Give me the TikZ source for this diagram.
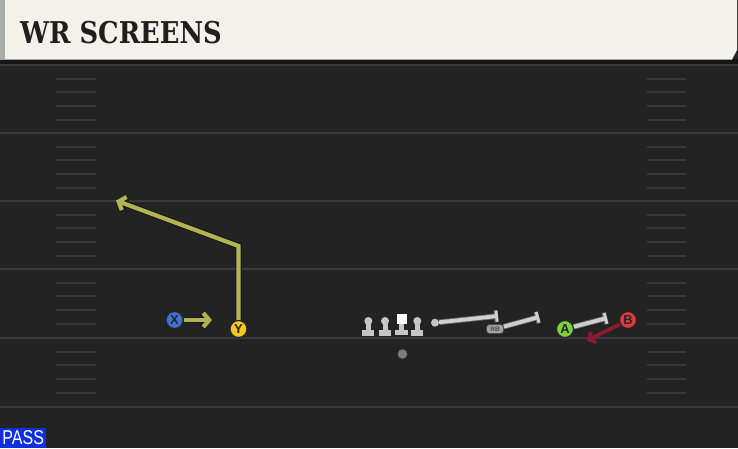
\documentclass[tikz,border=0pt]{standalone}
\usepackage{fontspec}
\usepackage{xcolor}
\usepackage{tikz}
\usetikzlibrary{arrows.meta, positioning, calc}
\setmainfont{Liberation Sans}
\newfontfamily\titlefont{DejaVu Serif}[BoldFont={DejaVu Serif Bold}, FakeStretch=0.86]
\newfontfamily\passfont{Liberation Sans}[FakeStretch=0.8]

\definecolor{fieldbg}{HTML}{232323}
\definecolor{headerbg}{HTML}{F4F1EA}
\definecolor{headeredge}{HTML}{A9ACA8}
\definecolor{headershadow}{HTML}{151515}
\definecolor{yardline}{HTML}{3B3B3B}
\definecolor{hashline}{HTML}{383838}
\definecolor{routeolive}{HTML}{B4B352}
\definecolor{blockgray}{HTML}{CFCFCF}
\definecolor{linegray}{HTML}{C6C6C6}
\definecolor{qbgray}{HTML}{7C7C7C}
\definecolor{rbgray}{HTML}{A2A2A2}
\definecolor{xblue}{HTML}{3D72D9}
\definecolor{yyellow}{HTML}{F3C921}
\definecolor{agreen}{HTML}{7ED23B}
\definecolor{bred}{HTML}{E1393F}
\definecolor{motionred}{HTML}{8C1A30}
\definecolor{passblue}{HTML}{0F2FDC}

\tikzstyle{player} = [circle, draw=black!85, line width=1.2pt, minimum size=17pt, inner sep=0pt, font=\bfseries\fontsize{13}{13}\selectfont, text=black!85]
\tikzstyle{routeshadow} = [line width=6.5pt, color=black!90, -{Straight Barb[length=6pt,width=14pt]}]
\tikzstyle{route} = [line width=4.2pt, color=routeolive, -{Straight Barb[length=6pt,width=14pt]}]
\tikzstyle{blockshadow} = [line width=5.5pt, color=black!60, -{Bar[width=12pt,line width=4pt]}]
\tikzstyle{block} = [line width=3.8pt, color=blockgray, -{Bar[width=11pt,line width=2.8pt]}]
\tikzstyle{motion} = [line width=3.8pt, color=motionred, -{Straight Barb[length=5pt,width=12pt]}]
\tikzstyle{lineman} = [circle, fill=linegray, minimum size=8pt, inner sep=0pt]
\tikzstyle{snapper} = [rectangle, fill=white, minimum width=10pt, minimum height=9.5pt, inner sep=0pt]
\tikzstyle{rbtag} = [rectangle, rounded corners=3pt, fill=rbgray, draw=black!70, line width=0.7pt, minimum width=17pt, minimum height=9pt, inner sep=0pt, font=\bfseries\fontsize{6.5}{6.5}\selectfont, text=black!70]

\begin{document}
\begin{tikzpicture}[x=1pt, y=-1pt]
    \useasboundingbox (0,0) rectangle (738,448);
    % Field
    \fill[fieldbg] (0,0) rectangle (738,448);
    \foreach \yl in {65,133,201,269,338,407} {
        \draw[yardline, line width=2pt] (0,\yl) -- (738,\yl);
    }
    \foreach \yl in {65,133,201,269,338} {
        \foreach \off in {14,27,41,55} {
            \draw[hashline, line width=1.5pt] (56,\yl+\off) -- (96,\yl+\off);
            \draw[hashline, line width=1.5pt] (647,\yl+\off) -- (686,\yl+\off);
        }
    }

    % Header
    \fill[headershadow] (0,59) rectangle (738,63.5);
    \fill[headerbg] (0,0) -- (737,0) -- (737,50) -- (732,59.5) -- (0,59.5) -- cycle;
    \fill[headeredge] (0,0) rectangle (5,59.5);
    \node[anchor=base west, inner sep=0pt, text=black!88, font=\titlefont\bfseries\fontsize{30}{30}\selectfont] (title) at (20,43) {WR SCREENS};

    % Offensive line
    \node[lineman] (lt) at (368.3,321) {};
    \node[lineman] (lg) at (385,321) {};
    \node[snapper] (c) at (401.7,318.8) {};
    \node[lineman] (rg) at (417.3,321) {};
    \node[lineman] (rt) at (435,322.7) {};
    \foreach \n in {lt,lg,rg} {
        \fill[linegray] ($(\n)+(-2.5,0)$) rectangle ($(\n)+(2.5,10)$);
        \fill[linegray] ($(\n)+(-6,9)$) rectangle ($(\n)+(6,14.5)$);
    }
    \fill[linegray] ($(c.south)+(-2.5,0)$) rectangle ($(c.south)+(2.5,7)$);
    \fill[linegray] ($(c.south)+(-6.5,6.5)$) rectangle ($(c.south)+(6.5,11.5)$);
    \node[circle, fill=qbgray, minimum size=9.5pt, inner sep=0pt] (qb) at (402.5,354) {};

    % Blocks
    \coordinate (rtblk) at (498,316);
    \coordinate (rbblk) at (539,317);
    \coordinate (ablk) at (607,318);
    \node[rbtag] (rb) at (495,329) {RB};
    \draw[blockshadow] (rt) -- (rtblk);
    \draw[block] (rt) -- (rtblk);
    \draw[blockshadow] (rb) -- (rbblk);
    \draw[block] (rb) -- (rbblk);

    % Receivers
    \node[player, fill=xblue] (x) at (174.5,320) {X};
    \node[player, fill=yyellow] (y) at (238.5,329) {Y};
    \node[player, fill=agreen] (a) at (565,329) {A};
    \node[player, fill=bred] (b) at (628,320) {B};
    \draw[blockshadow] (a) -- (ablk);
    \draw[block] (a) -- (ablk);

    % Routes
    \coordinate (xend) at (212,320);
    \coordinate (ybreak) at (238.5,246);
    \coordinate (yend) at (116,200.5);
    \coordinate (bend) at (587,340.5);
    \draw[routeshadow] (x) -- (xend);
    \draw[route] (x) -- (xend);
    \draw[routeshadow] (y) -- (ybreak) -- (yend);
    \draw[route] (y) -- (ybreak) -- (yend);
    \draw[motion] (b) -- (bend);

    % Play type
    \node[anchor=south west, fill=passblue, text=white, minimum width=46pt, minimum height=20pt, inner sep=0pt, font=\passfont\fontsize{20}{20}\selectfont] (pass) at (0,448) {PASS};
\end{tikzpicture}
\end{document}
